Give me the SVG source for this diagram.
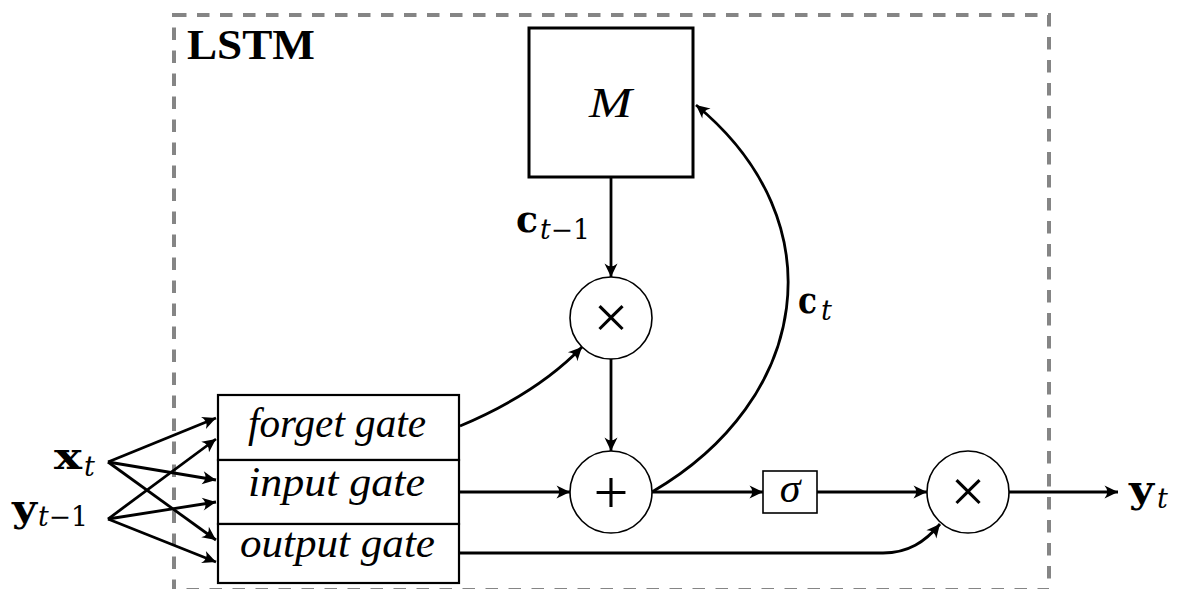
<svg xmlns="http://www.w3.org/2000/svg" width="1179" height="589" viewBox="0 0 1179 589">
<style>
.frame{fill:none;stroke:#858585;stroke-width:4;stroke-dasharray:12.5 10.5}
.box{fill:#fff;stroke:#000;stroke-width:2.2}
.mbox{fill:#fff;stroke:#000;stroke-width:3}
.op{fill:#fff;stroke:#000;stroke-width:1.6}
.sbox{fill:#fff;stroke:#000;stroke-width:1.6}
.conn{fill:none;stroke:#000;stroke-width:2.8;marker-end:url(#arr)}
.gate{font-family:"Liberation Serif",serif;font-style:italic;font-size:43px;fill:#000}
.math{font-family:"Liberation Serif",serif;font-style:italic;fill:#000}
.vec{font-family:"DejaVu Serif","Liberation Serif",serif;font-weight:bold;font-size:37px;fill:#000}
.sub{font-family:"DejaVu Serif","Liberation Serif",serif;font-size:27px;fill:#000}
.sym{font-family:"Liberation Serif",serif;font-size:62px;fill:#000;text-anchor:middle}
.title{font-family:"Liberation Serif",serif;font-weight:bold;font-size:42px;fill:#000}
</style>
<defs>
<marker id="arr" markerUnits="userSpaceOnUse" markerWidth="17" markerHeight="15" refX="15" refY="7.5" orient="auto" overflow="visible">
<path d="M15,7.5 L1.5,1 Q7,7.5 1.5,14 Z" fill="#000"/>
</marker>
</defs>
<rect class="frame" x="174" y="15" width="875" height="575"/>
<text class="title" x="187" y="59" textLength="128" lengthAdjust="spacingAndGlyphs">LSTM</text>

<g id="connectors">
<path class="conn" d="M108,462 L216,418"/>
<path class="conn" d="M108,462 L216,480"/>
<path class="conn" d="M108,462 L216,540"/>
<path class="conn" d="M108,519 L216,439"/>
<path class="conn" d="M108,519 L216,502"/>
<path class="conn" d="M108,519 L216,562"/>
<path class="conn" d="M460,426 C510,405 550,380 582,347"/>
<path class="conn" d="M611,177 L611,277"/>
<path class="conn" d="M611,359 L611,451"/>
<path class="conn" d="M459,492 L570,492"/>
<path class="conn" d="M652,492 L763,492"/>
<path class="conn" d="M817,492 L927,492"/>
<path class="conn" d="M1009,492 L1118,492"/>
<path class="conn" d="M459,553 L883,553 C908,553 925,542 940,524"/>
<path class="conn" d="M652,492 C810,400 838,222 696,105"/>
</g>

<g id="node-M">
<rect class="mbox" x="529" y="28" width="164" height="149"/>
<text class="math" x="589" y="117" font-size="42" textLength="43" lengthAdjust="spacingAndGlyphs">M</text>
</g>

<g id="node-mult1">
<circle class="op" cx="611" cy="318" r="41"/>
<text class="sym" x="611" y="338">×</text>
</g>

<g id="node-plus">
<circle class="op" cx="611" cy="492" r="41"/>
<text class="sym" x="611" y="513">+</text>
</g>

<g id="node-sigma">
<rect class="sbox" x="763" y="471" width="54" height="42"/>
<text class="math" x="790" y="502" font-size="42" text-anchor="middle">σ</text>
</g>

<g id="node-mult2">
<circle class="op" cx="968" cy="492" r="41"/>
<text class="sym" x="968" y="512">×</text>
</g>

<g id="node-gates">
<rect class="box" x="218" y="395" width="241" height="65"/>
<rect class="box" x="218" y="460" width="241" height="64"/>
<rect class="box" x="218" y="524" width="241" height="59"/>
<text class="gate" x="248" y="437" textLength="178" lengthAdjust="spacingAndGlyphs">forget gate</text>
<text class="gate" x="248" y="496" textLength="177" lengthAdjust="spacingAndGlyphs">input gate</text>
<text class="gate" x="240" y="557" textLength="195" lengthAdjust="spacingAndGlyphs">output gate</text>
</g>

<g id="label-xt">
<text class="vec" x="54" y="469" textLength="28" lengthAdjust="spacingAndGlyphs">x</text>
<text class="sub" x="84" y="476" font-style="italic">t</text>
</g>
<g id="label-yt1">
<text class="vec" x="12" y="521" textLength="25" lengthAdjust="spacingAndGlyphs">y</text>
<text class="sub" x="38" y="526" textLength="50" lengthAdjust="spacingAndGlyphs"><tspan font-style="italic">t</tspan>−1</text>
</g>
<g id="label-ct1">
<text class="vec" x="516" y="232" textLength="22" lengthAdjust="spacingAndGlyphs">c</text>
<text class="sub" x="540" y="239" textLength="50" lengthAdjust="spacingAndGlyphs"><tspan font-style="italic">t</tspan>−1</text>
</g>
<g id="label-ct">
<text class="vec" x="798" y="313" textLength="19" lengthAdjust="spacingAndGlyphs">c</text>
<text class="sub" x="821" y="320" font-style="italic">t</text>
</g>
<g id="label-yt">
<text class="vec" x="1129" y="502" textLength="25" lengthAdjust="spacingAndGlyphs">y</text>
<text class="sub" x="1157" y="508" font-style="italic">t</text>
</g>
</svg>
